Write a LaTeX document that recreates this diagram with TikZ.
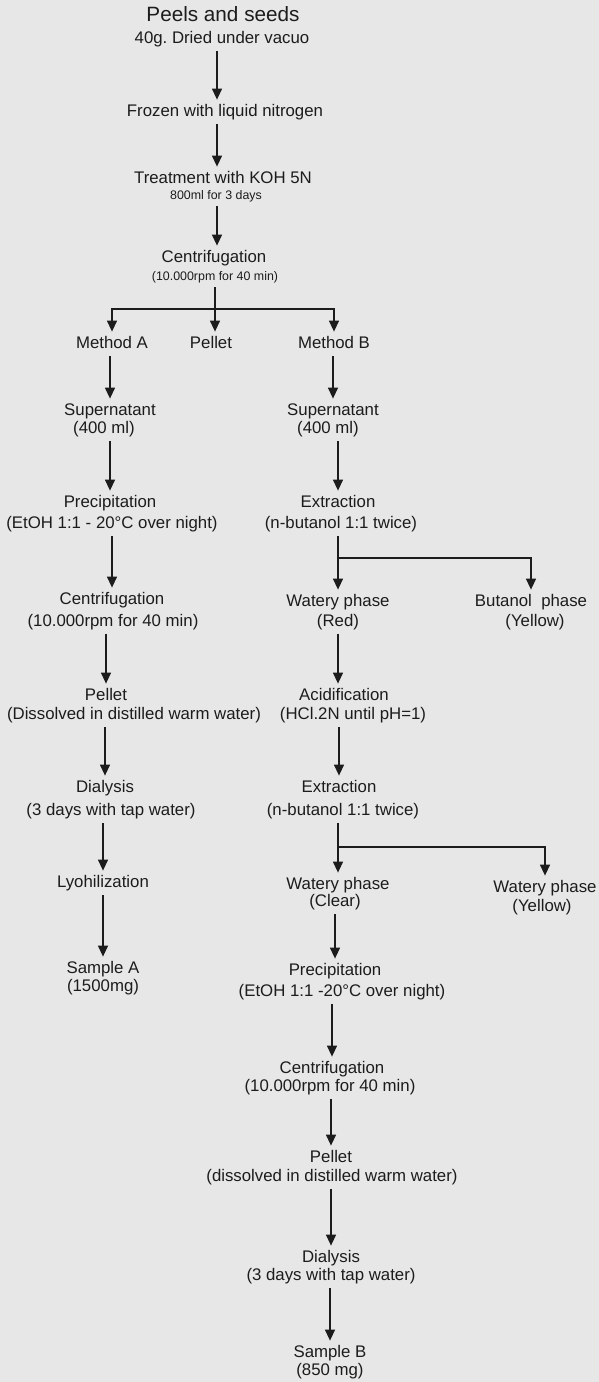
\documentclass[tikz,border=0pt]{standalone}
\usepackage{fontspec}
\setmainfont{Liberation Sans}
\usetikzlibrary{arrows.meta}
\definecolor{paper}{RGB}{231,231,231}
\definecolor{ink}{RGB}{28,28,28}

\begin{document}
\begin{tikzpicture}[x=1pt,y=-1pt,->,>={Triangle[width=10pt,length=11pt]},shorten >=4pt,shorten <=4pt,line width=1.3pt,color=ink]
\tikzstyle{every node}=[inner sep=0pt,font=\fontsize{16.8}{20}\selectfont,text height=12pt,text depth=3.5pt]
\tikzstyle{title}=[font=\fontsize{20.7}{24}\selectfont,text height=14.8pt,text depth=4.3pt]
\tikzstyle{note}=[font=\fontsize{12.4}{15}\selectfont,text height=8.9pt,text depth=2.6pt]
\fill[paper,-,shorten <=0pt,shorten >=0pt] (0,0) rectangle (599,1382);
\useasboundingbox (0,0) rectangle (599,1382);

% common steps
\node[title] (peels) at (223,16) {Peels and seeds};
\node (dried) at (222,39) {40g.\ Dried under vacuo};
\node (frozen) at (225,112) {Frozen with liquid nitrogen};
\node (koh) at (223,179) {Treatment with KOH 5N};
\node[note] (kohx) at (216,196) {800ml for 3 days};
\node (cf) at (214,258) {Centrifugation};
\node[note] (cfx) at (215,277) {(10.000rpm for 40 min)};
\coordinate (axis) at (217,0);
\coordinate (split1) at (215,309);

\node (metA) at (112,344) {Method A};
\node (pel) at (211,344) {Pellet};
\node (metB) at (334,344) {Method B};

% method A
\node (supA) at (110,411) {Supernatant};
\node (supAx) at (104,429) {(400 ml)};
\node (preA) at (110,503) {Precipitation};
\node (preAx) at (112,524) {(EtOH 1:1 - 20°C over night)};
\node (cfA) at (112,600) {Centrifugation};
\node (cfAx) at (113,622) {(10.000rpm for 40 min)};
\node (pelA) at (106,696) {Pellet};
\node (pelAx) at (134,715) {(Dissolved in distilled warm water)};
\node (dialA) at (105,788) {Dialysis};
\node (dialAx) at (111,811) {(3 days with tap water)};
\node (lyoA) at (103,883) {Lyohilization};
\node (samA) at (103,969) {Sample A};
\node (samAx) at (103,987) {(1500mg)};

% method B
\node (supB) at (333,411) {Supernatant};
\node (supBx) at (328,429) {(400 ml)};
\node (extB) at (338,503) {Extraction};
\node (extBx) at (341,524) {(n-butanol 1:1 twice)};
\coordinate (split2) at (338,558);
\node (watB) at (338,602) {Watery phase};
\node (watBx) at (338,622) {(Red)};
\node (butB) at (531,602) {Butanol~ phase};
\node (butBx) at (535,622) {(Yellow)};
\node (acidB) at (344,696) {Acidification};
\node (acidBx) at (353,715) {(HCl.2N until pH=1)};
\node (ext2B) at (339,788) {Extraction};
\node (ext2Bx) at (343,811) {(n-butanol 1:1 twice)};
\coordinate (split3) at (338,847);
\node (clearB) at (338,885) {Watery phase};
\node (clearBx) at (335,902) {(Clear)};
\node (yelB) at (545,888) {Watery phase};
\node (yelBx) at (542,907) {(Yellow)};
\node (preB) at (335,971) {Precipitation};
\node (preBx) at (342,992) {(EtOH 1:1 -20°C over night)};
\node (cfB) at (332,1069) {Centrifugation};
\node (cfBx) at (330,1087) {(10.000rpm for 40 min)};
\node (pelB) at (331,1158) {Pellet};
\node (pelBx) at (332,1177) {(dissolved in distilled warm water)};
\node (dialB) at (331,1258) {Dialysis};
\node (dialBx) at (331,1276) {(3 days with tap water)};
\node (samB) at (330,1353) {Sample B};
\node (samBx) at (330,1371) {(850 mg)};

\path (dried.south -| axis) edge (frozen.north -| axis)
	(frozen.south -| axis) edge (koh.north -| axis)
	(kohx.south -| axis) edge (cf.north -| axis)
	(cfx.south) edge (cfx.south |- pel.north);
\draw[shorten <=0pt] (split1) -| (metA.north);
\draw[shorten <=0pt] (split1) -| (metB.north);

\path (metA.south -| supA) edge (supA.north)
	(supAx.south -| preA) edge (preA.north)
	(preAx.south -| cfA) edge (cfA.north)
	(cfAx.south -| pelA) edge (pelA.north)
	(pelAx.south -| dialA) edge (dialA.north)
	(dialAx.south -| lyoA) edge (lyoA.north)
	(lyoA.south) edge (samA.north);

\path (metB.south -| supB) edge (supB.north)
	(supBx.south -| extB) edge (extB.north)
	(extBx.south -| watB) edge (watB.north)
	(watBx.south) edge (watBx.south |- acidB.north)
	(acidBx.south -| ext2B) edge (ext2B.north)
	(ext2Bx.south -| clearB) edge (clearB.north)
	(clearBx.south -| preB) edge (preB.north)
	(preBx.south -| cfB) edge (cfB.north)
	(cfBx.south -| pelB) edge (pelB.north)
	(pelBx.south -| dialB) edge (dialB.north)
	(dialBx.south -| samB) edge (samB.north);
\draw[shorten <=0pt] (split2) -| (butB.north);
\draw[shorten <=0pt] (split3) -| (yelB.north);
\end{tikzpicture}
\end{document}
